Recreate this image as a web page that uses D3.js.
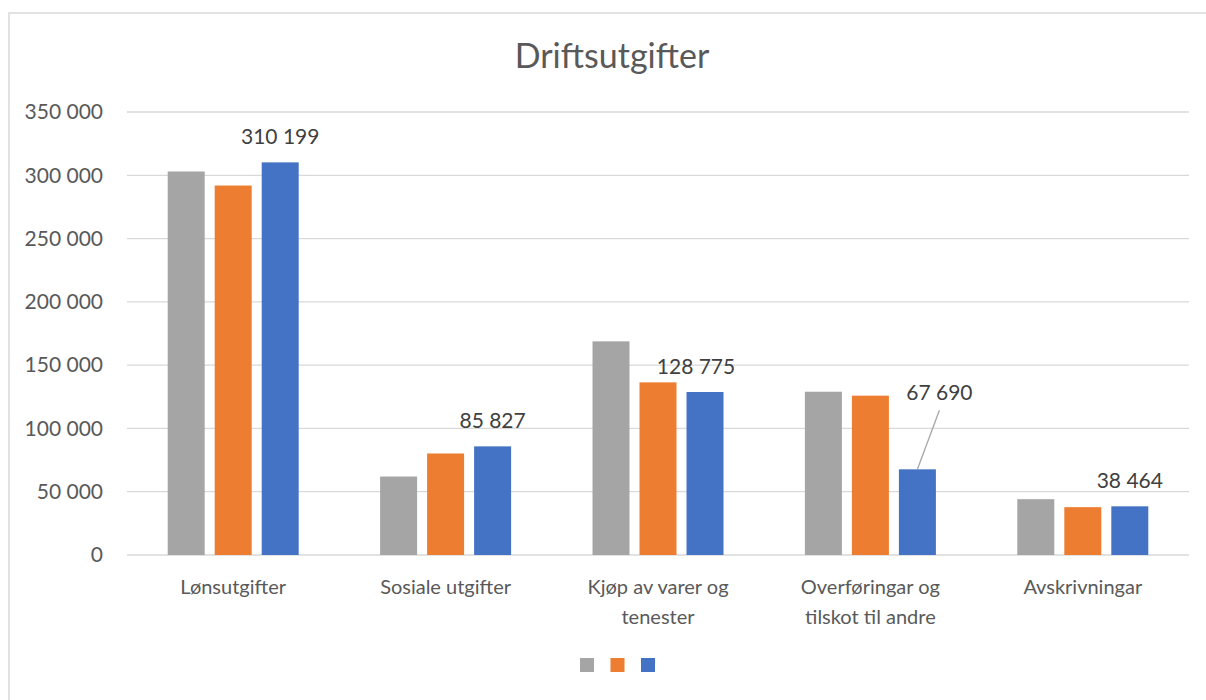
<!DOCTYPE html>
<html lang="no">
<head>
<meta charset="utf-8">
<title>Driftsutgifter</title>
<script src="https://d3js.org/d3.v7.min.js"></script>
<style>
  body { margin: 0; background: #fff; }
  svg text { font-family: Lato, "Open Sans", sans-serif; }
</style>
</head>
<body>
<div id="chart"></div>
<script>
// data
var categories = ["Lønsutgifter", "Sosiale utgifter", "Kjøp av varer og tenester",
                  "Overføringar og tilskot til andre", "Avskrivningar"];
var seriesNames = ["s1", "s2", "s3"];
var seriesColors = ["#A5A5A5", "#ED7D31", "#4472C4"];
var grayValues   = [303000, 62000, 168800, 129000, 44100];
var orangeValues = [291900, 80200, 136400, 125900, 37800];
var blueValues   = [310199, 85827, 128775, 67690, 38464];
var yTicks = [0, 50000, 100000, 150000, 200000, 250000, 300000, 350000];
// category labels split into lines as in the chart
var catLines = [["Lønsutgifter"], ["Sosiale utgifter"], ["Kjøp av varer og", "tenester"],
                ["Overføringar og", "tilskot til andre"], ["Avskrivningar"]];

var W = 1206, H = 700;
var margin = {left: 127, right: 17, top: 112, bottom: 145};
var plotW = W - margin.left - margin.right, plotH = H - margin.top - margin.bottom;

var svg = d3.select("#chart").append("svg").attr("width", W).attr("height", H);

// chart area border (runs off the right and bottom)
svg.append("rect").attr("x", 9).attr("y", 13).attr("width", W + 10).attr("height", H + 10)
  .attr("fill", "none").attr("stroke", "#d9d9d9").attr("stroke-width", 1.5);

svg.append("text").attr("x", 612).attr("y", 68)
  .attr("text-anchor", "middle").attr("fill", "#595959")
  .style("font-size", "34px").text("Driftsutgifter");

var g = svg.append("g").attr("transform", "translate(" + margin.left + "," + margin.top + ")");

var x = d3.scaleBand().domain(categories).range([0, plotW]);
var groupW = 131;
var x1 = d3.scaleBand().domain(seriesNames)
  .range([(x.bandwidth() - groupW) / 2, (x.bandwidth() + groupW) / 2])
  .paddingInner(0.213);
var y = d3.scaleLinear().domain([0, 350000]).range([plotH, 0]);

var fmt = function(v) { return d3.format(",")(v).replace(/,/g, " "); };

// gridlines
g.selectAll(".grid").data(yTicks).enter().append("line")
  .attr("x1", 0).attr("x2", plotW)
  .attr("y1", function(d) { return y(d); }).attr("y2", function(d) { return y(d); })
  .attr("stroke", "#d9d9d9").attr("stroke-width", 1.3);

// y axis
var yAxis = g.append("g").call(d3.axisLeft(y).tickValues(yTicks).tickSize(0).tickPadding(24).tickFormat(fmt));
yAxis.select(".domain").remove();
yAxis.selectAll("text").attr("fill", "#595959").style("font-size", "21px")
  .style("font-family", "Lato, sans-serif");

// bars
var table = categories.map(function(c, i) {
  return {cat: c, vals: [grayValues[i], orangeValues[i], blueValues[i]]};
});
var groups = g.selectAll(".grp").data(table).enter().append("g")
  .attr("transform", function(d) { return "translate(" + x(d.cat) + ",0)"; });
groups.selectAll("rect").data(function(d) {
    return d.vals.map(function(v, j) { return {s: seriesNames[j], v: v, c: seriesColors[j]}; });
  }).enter().append("rect")
  .attr("x", function(d) { return x1(d.s); })
  .attr("y", function(d) { return y(d.v); })
  .attr("width", x1.bandwidth())
  .attr("height", function(d) { return plotH - y(d.v); })
  .attr("fill", function(d) { return d.c; });

// data labels on the blue series
var labelShift = [[0, 0], [0, 0], [-9, 0], [22, -51], [0, 0]];
table.forEach(function(d, i) {
  var cx = x(d.cat) + x1("s3") + x1.bandwidth() / 2;
  var top = y(blueValues[i]);
  var lx = cx + labelShift[i][0], ly = top - 18 + labelShift[i][1];
  if (labelShift[i][1] !== 0) {
    g.append("line").attr("x1", cx).attr("y1", top).attr("x2", lx).attr("y2", ly + 10)
      .attr("stroke", "#a6a6a6").attr("stroke-width", 1.3);
  }
  g.append("text").attr("x", lx).attr("y", ly).attr("text-anchor", "middle")
    .attr("fill", "#404040").style("font-size", "21px").text(fmt(blueValues[i]));
});

// category labels
var xl = g.append("g").attr("transform", "translate(0," + plotH + ")");
categories.forEach(function(c, i) {
  var t = xl.append("text").attr("x", x(c) + x.bandwidth() / 2).attr("y", 39)
    .attr("text-anchor", "middle").attr("fill", "#595959").style("font-size", "20px");
  catLines[i].forEach(function(line, k) {
    t.append("tspan").attr("x", x(c) + x.bandwidth() / 2).attr("dy", k === 0 ? 0 : 30).text(line);
  });
});

// legend: three swatches, no names
var legend = svg.append("g").attr("transform", "translate(580,658)");
legend.selectAll("rect").data(seriesColors).enter().append("rect")
  .attr("x", function(d, i) { return i * 30.5; }).attr("y", 0)
  .attr("width", 14).attr("height", 14).attr("fill", function(d) { return d; });
</script>
</body>
</html>
